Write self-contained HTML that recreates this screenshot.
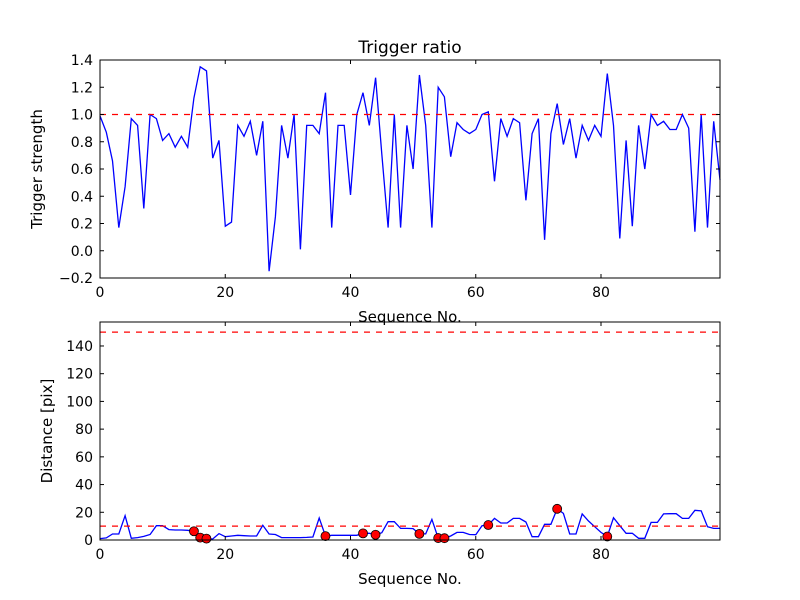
<!DOCTYPE html>
<html><head><meta charset="utf-8"><style>body{margin:0;background:#fff}svg{display:block;font-family:"DejaVu Sans","Liberation Sans",sans-serif}</style></head>
<body>
<svg id="c" width="800" height="600"></svg>
<script>
const trigger=[0.99,0.87,0.66,0.17,0.47,0.97,0.92,0.31,1.0,0.97,0.81,0.86,0.76,0.84,0.76,1.12,1.35,1.32,0.68,0.81,0.18,0.21,0.92,0.84,0.95,0.70,0.95,-0.15,0.25,0.92,0.68,1.0,0.01,0.92,0.92,0.86,1.16,0.17,0.92,0.92,0.41,1.0,1.16,0.92,1.27,0.71,0.17,1.0,0.17,0.92,0.60,1.29,0.92,0.17,1.20,1.13,0.69,0.94,0.89,0.86,0.89,1.0,1.02,0.51,0.97,0.84,0.97,0.94,0.37,0.86,0.97,0.08,0.86,1.08,0.78,0.97,0.68,0.92,0.81,0.92,0.84,1.30,0.92,0.09,0.81,0.18,0.92,0.60,1.0,0.92,0.95,0.89,0.89,1.0,0.90,0.14,1.0,0.17,0.95,0.52];
const distance=[1,1.5,4.3,4.3,17.5,1.2,1.7,2.6,4,10.3,10.3,7.5,7.2,7.2,7,6.3,1.7,1,0.7,4.6,2.4,2.9,3.4,3.1,2.9,2.9,10.6,4.3,4,1.7,1.7,1.7,1.7,1.9,2.2,15.9,2.8,3.4,3.4,3.4,3.4,3.4,4.8,4.8,3.8,5.3,13.2,13.2,8.4,8.4,8.2,4.4,4.4,14.9,1.4,1.3,2.9,5.5,5.5,4,3.8,10.3,10.8,15.6,12.3,12.3,15.6,15.6,13,2.4,2.4,11.3,11.3,22.5,19.2,4.3,4.3,18.8,13.7,9.6,5.5,2.5,16.1,10.3,4.8,4.8,1.2,1.2,12.7,12.7,18.8,19,19,15.6,15.6,21.4,21,9.6,8.4,8.4];
const triggerThreshold=1.0;
const distThresholds=[150,10];
const topYTicks=[-0.2,0,0.2,0.4,0.6,0.8,1.0,1.2,1.4];
const botYTicks=[0,20,40,60,80,100,120,140];
const xTicks=[0,20,40,60,80];

const svg=document.getElementById('c');const NS='http://www.w3.org/2000/svg';
function mk(t,a,p){const e=document.createElementNS(NS,t);for(const k in a)e.setAttribute(k,a[k]);(p||svg).appendChild(e);return e;}
const L=100,R=720;const xs=i=>L+(R-L)*i/99;
function panel(top,bot,ymin,ymax){
  const ys=v=>bot-(v-ymin)/(ymax-ymin)*(bot-top);
  return {ys};
}
function axesFrame(p,top,bot,yt,fmt,ylab,ylx,name){
  const f=mk('rect',{x:L,y:top,width:R-L,height:bot-top,fill:'none',stroke:'#000','stroke-width':1});
  
  yt.forEach(v=>{const y=p.ys(v);
    mk('line',{x1:L,x2:L+4,y1:y,y2:y,stroke:'#000'});mk('line',{x1:R,x2:R-4,y1:y,y2:y,stroke:'#000'});
    const t=mk('text',{x:L-7,y:y+5,'text-anchor':'end','font-size':14});t.textContent=fmt(v);
    });
  xTicks.forEach(v=>{const x=xs(v);
    mk('line',{x1:x,x2:x,y1:bot,y2:bot-4,stroke:'#000'});mk('line',{x1:x,x2:x,y1:top,y2:top+4,stroke:'#000'});
    const t=mk('text',{x:x,y:bot+19,'text-anchor':'middle','font-size':14});t.textContent=v;
    });
  const yl=mk('text',{x:0,y:0,'text-anchor':'middle','font-size':15,transform:`translate(${ylx},${(top+bot)/2}) rotate(-90)`});yl.textContent=ylab;
  
  const xl=mk('text',{x:(L+R)/2,y:bot+44,'text-anchor':'middle','font-size':15});xl.textContent='Sequence No.';
  
}
// top
const p1=panel(60,278,-0.2,1.4);
let d='';trigger.forEach((v,i)=>{d+=(i?'L':'M')+xs(i).toFixed(1)+','+p1.ys(v).toFixed(1)});
const l1=mk('path',{d,fill:'none',stroke:'#0000ff','stroke-width':1.3});

const th1=mk('line',{x1:L,x2:R,y1:p1.ys(triggerThreshold),y2:p1.ys(triggerThreshold),stroke:'#ff0000','stroke-width':1.3,'stroke-dasharray':'6,6'});

axesFrame(p1,60,278,topYTicks,v=>v.toFixed(1).replace('-','\u2212'),'Trigger strength',42,'top');
const ti=mk('text',{x:410,y:53,'text-anchor':'middle','font-size':17});ti.textContent='Trigger ratio';

// bottom
const p2=panel(322,540,0,157.3);
d='';distance.forEach((v,i)=>{d+=(i?'L':'M')+xs(i).toFixed(1)+','+p2.ys(v).toFixed(1)});
const l2=mk('path',{d,fill:'none',stroke:'#0000ff','stroke-width':1.3});

distThresholds.forEach(v=>{const t=mk('line',{x1:L,x2:R,y1:p2.ys(v),y2:p2.ys(v),stroke:'#ff0000','stroke-width':1.3,'stroke-dasharray':'6,6'});
  });
distance.forEach((v,i)=>{if(trigger[i]>triggerThreshold){
  const c=mk('circle',{cx:xs(i),cy:p2.ys(v),r:4.5,fill:'#ff0000',stroke:'#000','stroke-width':0.8});
  }});
axesFrame(p2,322,540,botYTicks,v=>v,'Distance [pix]',52,'bottom');
</script>
</body></html>
